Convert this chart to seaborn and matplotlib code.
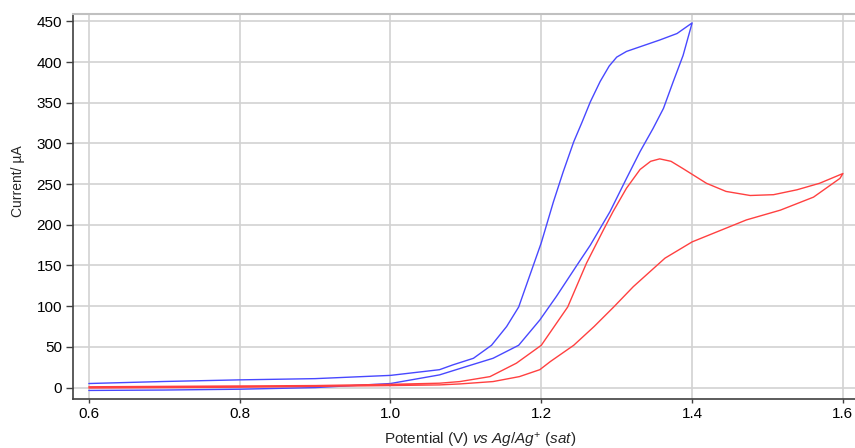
import seaborn as sns
import matplotlib.pyplot as plt
import pandas as pd

# blue CV: forward scan (lower branch) then reverse scan (upper branch)
blue_fwd_v = [0.60, 0.70, 0.80, 0.90, 1.00, 1.065, 1.101, 1.136, 1.170, 1.198, 1.220,
              1.247, 1.265, 1.291, 1.313, 1.331, 1.348, 1.362, 1.375, 1.388, 1.400]
blue_fwd_i = [-3.5, -3, -2, 0, 5, 15.6, 26, 36, 52, 83, 112,
              150, 175, 216, 257, 290, 318, 343, 376, 408, 448]
blue_rev_v = [1.400, 1.380, 1.357, 1.335, 1.313, 1.300, 1.290, 1.278, 1.265, 1.254, 1.243,
              1.229, 1.216, 1.200, 1.181, 1.170, 1.154, 1.134, 1.110, 1.083, 1.065,
              1.00, 0.90, 0.80, 0.70, 0.60]
blue_rev_i = [448, 435, 427, 420, 413, 406, 395, 376, 351, 326, 302,
              265, 228, 178, 128, 99, 75, 52, 36, 28, 22,
              15, 11, 9.5, 7.5, 5]

# red CV: forward scan (with the peak) then reverse scan
red_fwd_v = [0.60, 0.70, 0.80, 0.90, 1.00, 1.065, 1.092, 1.132, 1.167, 1.200, 1.235,
             1.260, 1.282, 1.295, 1.313, 1.331, 1.345, 1.357, 1.372, 1.388, 1.419,
             1.445, 1.477, 1.508, 1.539, 1.569, 1.600]
red_fwd_i = [1, 1.5, 2, 2.5, 4, 5.4, 7.4, 13.5, 30, 52, 99,
             153, 193, 216, 245, 268, 278, 281, 278, 269, 251,
             241, 236, 237, 243, 251, 263]
red_rev_v = [1.600, 1.596, 1.561, 1.517, 1.472, 1.432, 1.400, 1.364, 1.322,
             1.296, 1.270, 1.243, 1.212, 1.198, 1.171, 1.136, 1.092, 1.065,
             1.00, 0.90, 0.80, 0.70, 0.60]
red_rev_i = [263, 257, 234, 218, 206, 191, 179, 159, 124,
             99, 75, 52, 32, 22, 13.5, 7.4, 4.5, 3.3,
             2.5, 1.5, 0.5, 0, -0.5]

x_ticks = [0.6, 0.8, 1.0, 1.2, 1.4, 1.6]
y_ticks = [0, 50, 100, 150, 200, 250, 300, 350, 400, 450]

blue = pd.DataFrame({'V': blue_fwd_v + blue_rev_v, 'I': blue_fwd_i + blue_rev_i})
red = pd.DataFrame({'V': red_fwd_v + red_rev_v, 'I': red_fwd_i + red_rev_i})

sns.set_style("whitegrid")
plt.rcParams['font.family'] = ['Liberation Sans', 'DejaVu Sans']
plt.rcParams['mathtext.fontset'] = 'custom'
plt.rcParams['mathtext.rm'] = 'Liberation Sans'
plt.rcParams['mathtext.it'] = 'Liberation Sans:italic'

fig = plt.figure(figsize=(8.55, 4.48), dpi=100)
ax = fig.add_axes([0.0854, 0.1094, 0.9146, 0.8594])

sns.lineplot(data=blue, x='V', y='I', sort=False, estimator=None, color='#4848ff', lw=1.0, ax=ax)
sns.lineplot(data=red, x='V', y='I', sort=False, estimator=None, color='#ff4040', lw=1.0, ax=ax)

ax.set_xlim(0.579, 1.616)
ax.set_ylim(-14, 459)
ax.set_xticks(x_ticks)
ax.set_yticks(y_ticks)
ax.set_xticklabels([f'{t:.1f}' for t in x_ticks])

ax.grid(True, color='#d2d2d2', lw=1.2)
for s in ['left', 'bottom']:
    ax.spines[s].set_color('#404040')
    ax.spines[s].set_linewidth(1.2)
ax.spines['top'].set_color('#c0c0c0')
ax.spines['top'].set_linewidth(1.5)
ax.spines['right'].set_visible(False)

ax.tick_params(axis='both', direction='out', colors='#404040', labelcolor='black', labelsize=11)
ax.tick_params(axis='y', length=5, width=1, pad=3, left=True)
ax.tick_params(axis='x', length=3, width=1, pad=3, bottom=True)

ax.set_ylabel('Current/ µA', fontsize=10)
ax.yaxis.set_label_coords(-0.062, 0.565)
ax.set_xlabel(r'Potential (V) $\mathit{vs\ Ag/Ag^{+}\ (sat)}$', fontsize=11)
ax.xaxis.set_label_coords(0.52, -0.082)

plt.savefig('out.png', dpi=100)
